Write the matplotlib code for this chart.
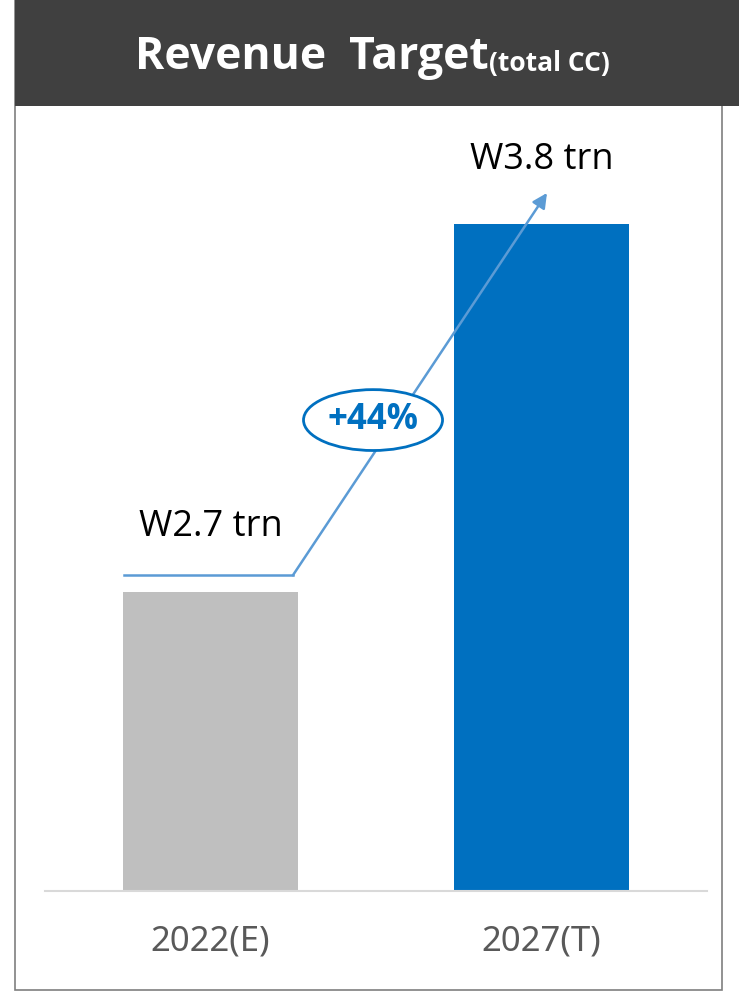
import matplotlib.pyplot as plt
from matplotlib.patches import Rectangle, Ellipse

categories = ['2022(E)', '2027(T)']
revenue = [2.7, 3.8]
value_labels = ['W2.7 trn', 'W3.8 trn']
growth_label = '+44%'
title_main = 'Revenue  Target'
title_sub = '(total CC)'

bar_colors = ['#bfbfbf', '#0070c0']
line_color = '#5b9bd5'
W, H = 739, 994

fig = plt.figure(figsize=(W / 100, H / 100), dpi=100)
fig.patch.set_facecolor('white')

# panel border and title banner (figure pixel coords -> fractions)
fig.patches.append(Rectangle((15 / W, 1 - 990 / H), 707 / W, 990 / H,
                             transform=fig.transFigure, fill=False,
                             edgecolor='#7f7f7f', lw=1.2, zorder=0))
fig.patches.append(Rectangle((15 / W, 1 - 106 / H), 724 / W, 106 / H,
                             transform=fig.transFigure, facecolor='#404040',
                             edgecolor='none', zorder=1))
t = fig.text(135 / W, 1 - 58 / H, title_main, color='white', fontsize=32,
             fontweight='bold', family='Open Sans', va='center', ha='left')
fig.canvas.draw()
bb = t.get_window_extent()
fig.text(bb.x1 / W + 0.001, 1 - 64 / H, title_sub, color='white', fontsize=19,
         fontweight='bold', family='Open Sans', va='center', ha='left')

ax = fig.add_axes([45 / W, 1 - 891 / H, 662 / W, 781 / H])
x = [0, 1]
ax.bar(x, revenue, width=0.53, color=bar_colors, zorder=2)
ax.set_xlim(-0.5, 1.5)
ax.set_ylim(1.806, 4.141)

for s in ['top', 'left', 'right']:
    ax.spines[s].set_visible(False)
ax.spines['bottom'].set_color('#d9d9d9')
ax.spines['bottom'].set_linewidth(1.5)
ax.set_yticks([])
ax.set_xticks(x)
ax.set_xticklabels(categories, fontsize=25, color='#595959',
                   family='Noto Sans', fontweight='light')
ax.tick_params(axis='x', length=0, pad=24)

# growth connector
y_line = revenue[0] + 0.05
x_bend = 0.249
ax.plot([-0.2625, x_bend], [y_line, y_line], color=line_color, lw=1.8, zorder=3)
ax.annotate('', xy=(1.0166, revenue[1] + 0.093), xytext=(x_bend, y_line),
            arrowprops=dict(arrowstyle='-|>', color=line_color, lw=1.8,
                            mutation_scale=22, shrinkA=0, shrinkB=0), zorder=3)

ax.add_patch(Ellipse((0.491, 3.214), 0.42, 0.182, facecolor='white',
                     edgecolor='#0070c0', lw=2, zorder=4))
ax.text(0.491, 3.214, growth_label, color='#0070c0', fontsize=25,
        fontweight='bold', family='Open Sans', ha='center', va='center', zorder=5)

ax.text(x[0], revenue[0] + 0.194, value_labels[0], fontsize=26, color='black',
        family='Open Sans', ha='center', va='center')
ax.text(x[1], revenue[1] + 0.191, value_labels[1], fontsize=26, color='black',
        family='Open Sans', ha='center', va='center')

fig.savefig('out.png', dpi=100)
